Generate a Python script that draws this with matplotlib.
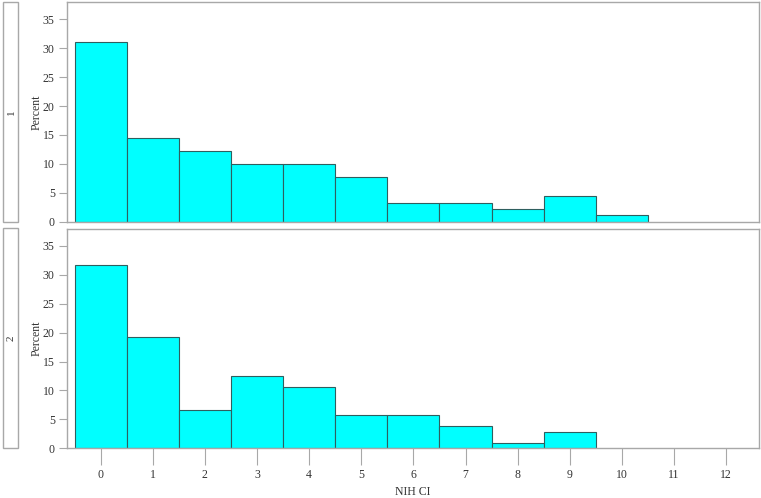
import matplotlib.pyplot as plt
from matplotlib.patches import Rectangle

# NIH CI histogram, percent of each group
nih_ci = [0, 1, 2, 3, 4, 5, 6, 7, 8, 9, 10, 11, 12]
group_labels = ['1', '2']
pct_group1 = [31.1, 14.4, 12.2, 10.0, 10.0, 7.8, 3.3, 3.3, 2.2, 4.4, 1.1]
pct_group2 = [31.7, 19.2, 6.7, 12.5, 10.6, 5.8, 5.8, 3.8, 1.0, 2.9]
y_ticks = [0, 5, 10, 15, 20, 25, 30, 35]

plt.rcParams['font.family'] = ['Liberation Serif', 'DejaVu Serif']

fig = plt.figure(figsize=(7.61, 4.98), dpi=100)
W, H = 761.0, 498.0

grey = '#a8a8a8'
txt = '#333333'
fs = 8.5
panels = [(2, 221.7, pct_group1), (228.5, 448.3, pct_group2)]

for i, (top, bot, vals) in enumerate(panels):
    ax = fig.add_axes([67 / W, 1 - bot / H, (759 - 67) / W, (bot - top) / H])
    ax.bar(nih_ci[:len(vals)], vals, width=1, color='#00ffff',
           edgecolor='#2f5f5f', linewidth=0.8)
    ax.set_xlim(-0.645, 12.63)
    ax.set_ylim(0, 38.0)
    ax.set_yticks(y_ticks)
    ax.set_yticklabels([str(t) for t in y_ticks], fontsize=fs, color=txt)
    ax.set_ylabel('Percent', fontsize=fs, color=txt, labelpad=0.5)
    for s in ax.spines.values():
        s.set_color(grey)
        s.set_linewidth(1)
    # tick lengths are in points: 8 px and 17 px at dpi 100
    ax.tick_params(axis='y', length=5.8, color=grey, pad=3, right=False)
    if i == 1:
        ax.set_xticks(nih_ci)
        ax.set_xticklabels([str(t) for t in nih_ci], fontsize=fs, color=txt)
        ax.tick_params(axis='x', length=12.2, color=grey, pad=3)
        ax.set_xlabel('NIH CI', fontsize=fs, color=txt, labelpad=3)
    else:
        ax.set_xticks([])

    # strip on the left
    fig.patches.append(Rectangle((3 / W, 1 - bot / H), 15 / W, (bot - top) / H,
                                 transform=fig.transFigure, facecolor='white',
                                 edgecolor=grey, linewidth=1))
    fig.text(11 / W, 1 - (top + bot) / 2 / H, group_labels[i], rotation=90,
             ha='center', va='center', fontsize=8, color=txt)

fig.savefig('out.png', dpi=100)
